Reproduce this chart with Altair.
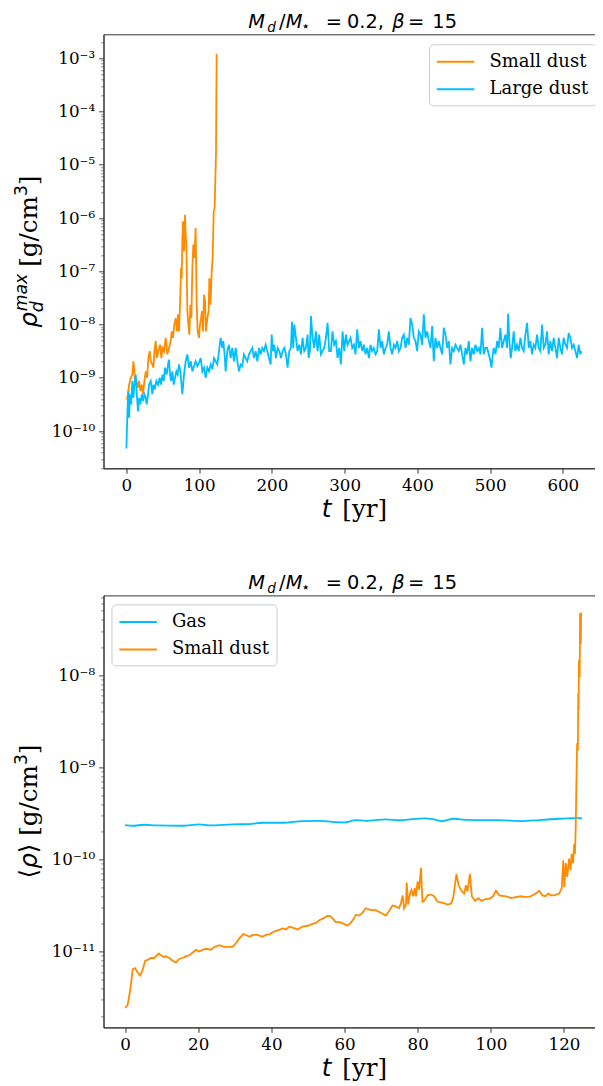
import altair as alt
import pandas as pd

# ---------------- data ----------------
# Top panel: maximum dust density, log10 values
large_t = [0.0,1.4,2.7,3.7,5.0,6.4,8.2,9.6,11.0,12.8,
           14.2,16.0,17.4,19.2,21.1,22.9,24.7,26.6,27.9,29.8,
           31.1,33.4,35.7,37.1,38.9,41.2,43.5,45.8,47.6,49.5,
           51.3,53.1,55.4,57.2,58.6,60.0,61.4,63.2,65.0,66.8,
           68.7,70.5,72.3,74.2,76.9,79.2,81.5,83.8,86.1,88.4,
           90.7,93.0,95.2,97.5,99.8,102.1,104.4,106.7,109.0,111.3,
           113.6,115.9,118.2,120.4,122.7,125.0,127.3,129.6,131.9,133.2,
           135.0,136.4,138.7,141.0,143.3,145.6,147.9,150.2,152.5,154.8,
           157.1,159.3,161.6,163.9,166.2,168.5,170.8,173.1,175.4,177.7,
           180.0,182.3,184.5,186.8,189.1,191.4,193.7,196.0,198.3,199.7,
           201.5,203.3,205.6,207.9,210.2,212.5,214.7,217.0,219.3,221.6,
           223.9,226.2,227.6,229.4,230.8,233.1,235.3,237.6,239.9,242.2,
           244.5,246.8,249.1,250.5,252.3,253.7,256.0,258.2,260.5,262.8,
           265.1,267.4,269.7,272.0,274.3,276.6,278.8,281.1,283.4,285.7,
           288.0,290.3,292.6,294.9,297.2,299.5,301.8,304.0,306.3,
           308.2,310.5,312.8,315.0,317.3,319.6,321.9,324.2,326.5,328.8,
           331.1,333.4,335.6,337.9,340.2,342.5,344.8,347.1,349.4,351.7,
           354.0,356.3,358.5,360.8,363.1,365.4,367.7,370.0,372.3,374.6,
           376.9,379.1,381.4,383.7,386.0,388.3,390.6,392.9,395.2,397.5,
           399.8,402.0,404.3,406.6,408.9,411.2,413.5,415.8,418.1,420.4,
           422.6,424.9,427.2,429.5,431.8,434.1,436.4,438.7,441.0,443.3,
           445.5,447.8,450.1,452.4,454.7,457.0,459.3,461.6,463.9,466.2,
           468.4,470.7,473.0,475.3,477.6,479.9,482.2,484.5,486.8,489.0,
           491.3,493.6,495.9,498.2,500.5,501.9,503.7,505.1,507.4,509.7,
           511.9,514.2,516.5,518.8,521.1,523.4,524.8,526.6,528.4,530.3,
           532.5,534.8,537.1,539.4,541.7,544.0,546.3,548.6,550.9,553.2,
           555.4,557.7,560.0,562.3,564.6,566.9,569.2,571.5,573.8,576.0,
           578.3,580.6,582.9,585.2,587.5,589.8,592.1,594.4,596.7,598.9,
           601.2,603.5,605.8,608.1,610.4,612.7,615.0,617.3,619.6,621.8,
           624.1,625.5]
large_log = [-10.33,-9.63,-9.25,-9.75,-9.31,-9.50,-9.06,-9.38,-9.13,-8.94,
             -9.31,-9.63,-9.38,-9.50,-9.31,-9.44,-9.31,-9.38,-9.50,-9.31,
             -9.13,-9.06,-9.31,-9.13,-9.22,-9.06,-9.13,-9.00,-9.13,-8.94,
             -9.06,-8.81,-8.94,-8.75,-8.66,-8.94,-9.06,-8.88,-9.13,-9.00,
             -8.88,-8.94,-8.75,-8.88,-9.31,-8.94,-8.69,-8.56,-8.81,-8.69,
             -8.88,-8.78,-8.69,-8.78,-8.72,-8.63,-8.88,-8.81,-9.00,-8.81,
             -8.88,-8.75,-8.84,-8.63,-8.69,-8.75,-8.50,-8.25,-8.44,-8.31,
             -8.56,-8.88,-8.50,-8.38,-8.63,-8.44,-8.69,-8.44,-8.69,-8.88,
             -8.75,-8.78,-8.56,-8.63,-8.69,-8.56,-8.50,-8.44,-8.63,-8.50,
             -8.69,-8.44,-8.56,-8.44,-8.50,-8.38,-8.50,-8.63,-8.75,-8.19,
             -8.50,-8.38,-8.63,-8.44,-8.50,-8.63,-8.50,-8.44,-8.56,-8.81,
             -8.50,-8.44,-7.95,-8.44,-8.00,-8.25,-8.50,-8.38,-8.56,-8.25,
             -8.50,-8.44,-8.19,-8.63,-8.50,-7.84,-8.25,-8.44,-8.13,-8.50,
             -8.19,-8.56,-8.50,-8.44,-8.25,-7.97,-8.50,-8.50,-8.13,-8.38,
             -8.31,-8.63,-8.44,-8.75,-8.13,-8.50,-8.19,-8.38,-8.31,
             -8.25,-8.44,-8.38,-8.56,-8.09,-8.44,-8.31,-8.50,-8.38,-8.56,
             -8.44,-8.63,-8.38,-8.50,-8.44,-8.56,-8.50,-8.09,-8.44,-8.31,
             -8.56,-8.44,-8.38,-8.13,-8.44,-8.56,-8.38,-8.44,-8.31,-8.50,
             -8.44,-8.25,-8.19,-8.44,-8.25,-8.38,-7.88,-8.00,-8.25,-8.31,
             -8.50,-8.13,-8.19,-8.38,-7.81,-8.25,-8.13,-8.31,-8.44,-8.03,
             -8.69,-8.25,-8.44,-8.31,-8.44,-8.56,-8.06,-8.19,-8.44,-8.31,
             -8.75,-8.44,-8.50,-8.38,-8.44,-8.50,-8.38,-8.56,-8.75,-8.44,
             -8.56,-8.31,-8.69,-8.44,-8.56,-8.38,-8.50,-8.44,-8.56,-8.06,
             -8.56,-8.44,-8.44,-8.56,-8.69,-8.81,-8.56,-8.44,-8.56,-8.31,
             -8.44,-8.06,-8.44,-8.31,-8.19,-8.44,-7.80,-8.31,-8.63,-8.44,
             -8.13,-8.50,-8.38,-8.50,-8.25,-8.44,-8.50,-8.19,-7.97,-8.44,
             -8.31,-8.56,-8.38,-8.44,-8.19,-8.44,-8.50,-8.00,-8.44,-8.38,
             -8.13,-8.56,-8.31,-8.50,-8.25,-8.44,-8.63,-8.25,-8.44,-8.56,
             -8.25,-8.38,-8.44,-8.16,-8.25,-8.44,-8.38,-8.50,-8.63,-8.38,
             -8.56,-8.50]

small_t = [0.0,1.4,3.7,6.0,8.2,9.6,11.0,11.9,13.7,15.6,
           17.4,19.2,21.1,22.9,24.7,26.6,28.4,30.2,32.1,33.4,
           35.7,37.1,38.9,40.3,41.7,44.0,46.2,48.1,49.5,51.7,
           54.0,56.3,58.6,60.9,62.3,64.1,65.9,67.8,69.6,71.0,
           72.3,73.7,75.1,76.0,76.9,77.8,79.2,80.6,81.5,82.4,
           83.8,85.2,86.5,87.9,89.3,90.7,92.0,93.4,95.2,96.6,
           98.0,99.8,101.2,102.6,103.9,105.3,106.7,108.1,109.4,111.3,
           113.1,114.0,115.4,116.3,117.2,118.6,120.0,121.3,122.3,123.2,
           123.6,124.1]
small_log = [-9.40,-9.38,-9.13,-9.00,-8.94,-8.69,-8.88,-9.13,-9.06,-9.19,
             -9.06,-9.25,-9.13,-9.31,-9.06,-8.88,-9.00,-8.63,-8.50,-8.69,
             -8.75,-8.81,-8.44,-8.31,-8.63,-8.50,-8.38,-8.63,-8.44,-8.50,
             -8.25,-8.56,-8.44,-8.31,-8.13,-8.25,-8.00,-7.88,-8.13,-7.81,
             -8.13,-7.63,-6.94,-7.13,-6.44,-6.06,-6.63,-5.94,-6.31,-6.50,
             -7.75,-8.00,-8.19,-7.63,-7.88,-6.94,-6.50,-6.75,-6.19,-7.63,
             -8.13,-8.25,-8.00,-7.88,-7.75,-8.13,-7.44,-7.56,-8.13,-7.88,
             -7.75,-7.13,-7.63,-7.38,-7.00,-6.75,-5.88,-5.81,-5.25,-4.75,
             -3.88,-2.92]

# Bottom panel: mean density, log10 values
gas_t = [0.0,2.1,5.3,8.5,15.7,20.3,23.0,29.4,34.0,37.6,43.1,48.5,53.1,56.7,
         59.9,63.1,65.8,71.3,74.9,78.6,81.8,84.1,86.8,89.8,93.2,97.7,102.3,
         104.1,108.6,113.2,118.7,122.3,124.9]
gas_log = [-9.628,-9.635,-9.624,-9.631,-9.635,-9.620,-9.631,-9.620,-9.617,-9.602,
           -9.602,-9.584,-9.581,-9.592,-9.599,-9.574,-9.581,-9.566,-9.574,-9.563,
           -9.555,-9.563,-9.584,-9.559,-9.570,-9.574,-9.574,-9.577,-9.584,-9.573,
           -9.559,-9.552,-9.552]

mean_t = [0.0,0.7,1.4,2.1,2.7,3.5,4.1,4.8,5.5,6.2,
          7.1,8.0,8.5,9.2,9.8,10.5,11.2,12.1,13.0,13.9,
          14.8,15.7,16.7,17.6,18.5,19.4,20.3,21.2,22.1,23.5,
          24.4,25.8,27.1,28.5,29.4,30.3,31.2,32.3,33.1,34.0,
          34.9,36.2,37.6,38.5,39.6,40.3,41.7,43.1,44.0,44.9,
          45.8,47.2,48.5,49.9,51.3,52.2,53.1,54.2,55.4,56.3,
          57.6,58.6,59.9,60.8,61.7,62.6,63.1,64.0,64.9,65.8,
          67.2,68.6,69.5,70.4,71.3,72.2,73.1,74.0,74.9,75.4,
          75.9,76.3,76.8,77.0,77.4,77.9,78.3,78.8,79.2,79.5,
          80.0,80.4,80.9,81.3,81.8,82.7,83.6,84.5,85.4,86.8,
          88.2,89.1,89.7,90.2,90.6,91.2,91.8,92.7,93.2,93.6,
          94.3,94.8,95.7,96.6,97.5,98.5,99.5,100.6,101.4,102.3,
          104.1,105.5,106.8,108.2,109.5,110.9,112.3,113.2,114.1,115.0,
          115.7,116.4,117.3,118.7,119.4,119.8,120.1,120.5,120.9,121.4,
          121.8,122.1,122.5,122.8,123.0,123.2,123.4,123.6,123.8,123.9,
          124.0,124.1,124.3,124.4,124.6,124.7]
mean_log = [-11.61,-11.58,-11.42,-11.19,-11.18,-11.23,-11.26,-11.20,-11.10,-11.09,
            -11.07,-11.07,-11.05,-11.02,-11.04,-11.06,-11.05,-11.07,-11.10,-11.12,
            -11.08,-11.07,-11.05,-11.04,-11.01,-10.98,-11.00,-10.98,-10.97,-10.98,
            -10.95,-10.93,-10.95,-10.95,-10.95,-10.91,-10.86,-10.81,-10.82,-10.84,
            -10.82,-10.82,-10.84,-10.82,-10.81,-10.79,-10.77,-10.75,-10.76,-10.73,
            -10.74,-10.76,-10.73,-10.72,-10.70,-10.69,-10.66,-10.64,-10.61,-10.62,
            -10.68,-10.68,-10.70,-10.72,-10.69,-10.64,-10.60,-10.61,-10.58,-10.53,
            -10.55,-10.55,-10.57,-10.59,-10.61,-10.56,-10.50,-10.51,-10.53,-10.48,
            -10.39,-10.53,-10.49,-10.25,-10.49,-10.37,-10.33,-10.40,-10.31,-10.40,
            -10.24,-10.33,-10.09,-10.46,-10.45,-10.39,-10.38,-10.40,-10.46,-10.47,
            -10.49,-10.48,-10.42,-10.27,-10.16,-10.28,-10.33,-10.37,-10.28,-10.35,
            -10.16,-10.40,-10.45,-10.42,-10.45,-10.43,-10.43,-10.40,-10.34,-10.39,
            -10.40,-10.42,-10.41,-10.40,-10.41,-10.40,-10.37,-10.34,-10.39,-10.40,
            -10.37,-10.39,-10.39,-10.37,-10.31,-10.01,-10.30,-10.04,-10.19,-9.99,
            -10.12,-9.94,-10.04,-9.83,-9.94,-9.68,-9.18,-8.74,-8.82,-8.20,
            -8.38,-7.84,-8.02,-7.33,-7.66,-7.32]

top_series = ["Small dust", "Large dust"]
bot_series = ["Gas", "Small dust"]
ORANGE = "#ff8c00"
BLUE = "#00bfff"


def frame(ts, logs, name):
    return pd.DataFrame({"t": ts, "v": [10.0 ** v for v in logs], "series": name})


top_df = pd.concat([frame(small_t, small_log, "Small dust"),
                    frame(large_t, large_log, "Large dust")], ignore_index=True)
bot_df = pd.concat([frame(gas_t, gas_log, "Gas"),
                    frame(mean_t, mean_log, "Small dust")], ignore_index=True)

DEC = "abs(log(datum.value)/LN10 - round(log(datum.value)/LN10)) < 0.01"
SUP = "['⁻¹²','⁻¹¹','⁻¹⁰','⁻⁹','⁻⁸','⁻⁷','⁻⁶','⁻⁵','⁻⁴','⁻³','⁻²']"
LABEL = f"{DEC} ? '10' + {SUP}[round(log(datum.value)/LN10) + 12] : ''"


def log_ticks(lo, hi):
    out = []
    for e in range(-13, 0):
        for m in range(1, 10):
            v = m * 10.0 ** e
            if lo <= v <= hi:
                out.append(v)
    return out


def y_axis(lo, hi):
    return alt.Axis(values=log_ticks(lo, hi), labelExpr=LABEL, title=None,
                    labelOverlap=False, grid=False,
                    tickSize={"condition": {"test": DEC, "value": 4.9}, "value": 2.8},
                    tickWidth={"condition": {"test": DEC, "value": 0.9}, "value": 0.6},
                    labelPadding=4)


def txt(s, x, y, size, font="DejaVu Sans", style="normal", angle=0):
    return alt.Chart(alt.Data(values=[{"k": 1}])).mark_text(
        text=s, align="left", baseline="alphabetic", font=font, fontSize=size,
        fontStyle=style, angle=angle, color="black"
    ).encode(x=alt.value(x), y=alt.value(y))


def title_parts():
    b = -6.7
    return [
        txt("M", 144.8, b, 19.4, style="italic"),
        txt("d", 163.8, b + 4.2, 13.6, style="italic"),
        txt("/", 175.5, b, 19.4),
        txt("M", 182.2, b, 19.4, style="italic"),
        txt("⋆", 197.5, b + 3.0, 15.0),
        txt("=", 222.2, b, 19.4),
        txt("0.2,", 243.5, b, 19.4),
        txt("β", 288.8, b, 19.4, style="italic"),
        txt("=", 304.5, b, 19.4),
        txt("15", 328.8, b, 19.4),
    ]


def xtitle_parts(h, gap):
    return [
        txt("t", 218.2, h + gap, 24.6, style="italic"),
        txt("[yr]", 238.8, h + gap, 24.6, font="DejaVu Serif"),
    ]


# plot area runs past the right page edge as in the reference (clipped there)
W = 498.5
H_TOP = 434
H_BOT = 432

# legend line symbol: path twice the unit box, so the row height stays small
SYM = "M-2,0H2"
legend_common = dict(title=None, fillColor="rgba(255,255,255,0.8)", strokeColor="#cccccc",
                     cornerRadius=4, padding=7, symbolType=SYM, symbolSize=352,
                     symbolStrokeWidth=2, symbolOffset=9.1, labelFont="DejaVu Serif",
                     labelFontSize=18, labelOffset=23.4, rowPadding=7.5,
                     labelColor="black", orient="none")

# ---------------- top panel ----------------
top_lo, top_hi = 10 ** -10.70, 10 ** -2.55
top_enc = dict(
    x=alt.X("t:Q", scale=alt.Scale(domain=[-31.5, 653.9], nice=False, zero=False),
            axis=alt.Axis(values=[0, 100, 200, 300, 400, 500, 600], title=None, format="d",
                          tickSize=4.9, labelPadding=4, grid=False)),
    y=alt.Y("v:Q", scale=alt.Scale(type="log", domain=[top_lo, top_hi], nice=False),
            axis=y_axis(top_lo, top_hi)),
    color=alt.Color("series:N", scale=alt.Scale(domain=top_series, range=[ORANGE, BLUE]),
                    legend=alt.Legend(legendX=325.5, legendY=10, **legend_common)),
)
top_base = alt.Chart(top_df)
top_small = top_base.transform_filter("datum.series == 'Small dust'").mark_line(
    strokeWidth=1.8, clip=True).encode(**top_enc)
top_large = top_base.transform_filter("datum.series == 'Large dust'").mark_line(
    strokeWidth=1.8, clip=True).encode(**top_enc)

top_ytitle = [
    txt("ρ", -66.5, 293.5, 24.6, style="italic", angle=270),
    txt("max", -76.5, 277.0, 17.2, style="italic", angle=270),
    txt("d", -61.0, 278.0, 17.2, style="italic", angle=270),
    txt("[g/cm", -66.5, 232.5, 24.6, font="DejaVu Serif", angle=270),
    txt("3", -76.5, 161.8, 17.2, angle=270),
    txt("]", -66.5, 151.0, 24.6, font="DejaVu Serif", angle=270),
]

top = alt.layer(top_small, top_large, *title_parts(), *xtitle_parts(H_TOP, 48.5),
                *top_ytitle).properties(width=W, height=H_TOP)

# ---------------- bottom panel ----------------
bot_lo, bot_hi = 10 ** -11.823, 10 ** -7.135
bot_enc = dict(
    x=alt.X("t:Q", scale=alt.Scale(domain=[-5.9, 130.4], nice=False, zero=False),
            axis=alt.Axis(values=[0, 20, 40, 60, 80, 100, 120], title=None, format="d",
                          tickSize=4.9, labelPadding=4, grid=False)),
    y=alt.Y("v:Q", scale=alt.Scale(type="log", domain=[bot_lo, bot_hi], nice=False),
            axis=y_axis(bot_lo, bot_hi)),
    color=alt.Color("series:N", scale=alt.Scale(domain=bot_series, range=[BLUE, ORANGE]),
                    legend=alt.Legend(legendX=8, legendY=9, **legend_common)),
)
bot_base = alt.Chart(bot_df)
bot_gas = bot_base.transform_filter("datum.series == 'Gas'").mark_line(
    strokeWidth=1.8, clip=True, interpolate="monotone").encode(**bot_enc)
bot_small = bot_base.transform_filter("datum.series == 'Small dust'").mark_line(
    strokeWidth=1.8, clip=True).encode(**bot_enc)

bot_ytitle = [
    txt("⟨", -66.5, 283.0, 24.6, angle=270),
    txt("ρ", -66.5, 273.4, 24.6, style="italic", angle=270),
    txt("⟩", -66.5, 257.8, 24.6, angle=270),
    txt("[g/cm", -66.5, 240.4, 24.6, font="DejaVu Serif", angle=270),
    txt("3", -76.5, 169.7, 17.2, angle=270),
    txt("]", -66.5, 158.9, 24.6, font="DejaVu Serif", angle=270),
]

bottom = alt.layer(bot_gas, bot_small, *title_parts(), *xtitle_parts(H_BOT, 48.5),
                   *bot_ytitle).properties(width=W, height=H_BOT)

chart = alt.vconcat(top, bottom, spacing=49.1).resolve_scale(
    color="independent").resolve_legend(color="independent").properties(
    padding={"left": 4.5, "top": 2.3, "right": -8, "bottom": 0}
).configure_axis(
    labelFont="DejaVu Serif", labelFontSize=16.7, labelColor="black",
    tickColor="#333333", domainColor="#333333", domainWidth=1,
).configure_view(stroke="#333333", strokeWidth=1)

chart.save("out.html", embed_options={"renderer": "svg", "actions": False})
